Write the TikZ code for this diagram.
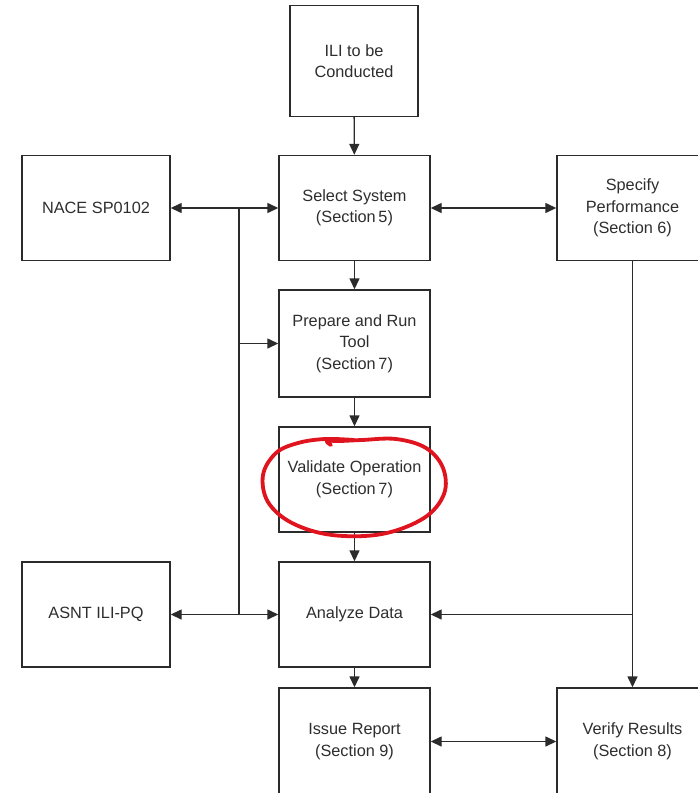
\documentclass[tikz,border=0pt]{standalone}
\usepackage{fontspec}
\setmainfont{Liberation Sans}
\usetikzlibrary{arrows.meta}
\definecolor{ink}{HTML}{2B2B2B}
\definecolor{txt}{HTML}{2E2E2E}
\definecolor{penred}{HTML}{E0141E}
\tikzset{
  box/.style={draw=ink, line width=1.4pt, minimum width=151pt, minimum height=105pt,
    inner sep=0pt, align=center, text=txt, font=\fontsize{16.3}{21.5}\selectfont},
  sidebox/.style={box, minimum width=148pt},
  conn/.style={draw=ink, line width=1.4pt},
  arr/.style={conn, -{Triangle[length=11pt,width=10pt]}},
  darr/.style={conn, {Triangle[length=11pt,width=10pt]}-{Triangle[length=11pt,width=10pt]}}
}
\begin{document}
\begin{tikzpicture}[x=1pt,y=-1pt]
  \useasboundingbox (0,0) rectangle (698,793);
  \clip (0,0) rectangle (698,793);
  \fill[white] (0,0) rectangle (698,793);

  % process boxes
  \node[box, minimum width=128pt, minimum height=111pt] (ili) at (354,61) {ILI to be\\Conducted};
  \node[box] (sel) at (354.5,208) {Select System\\(Section\,5)};
  \node[sidebox] (nace) at (96,208) {NACE SP0102};
  \node[box] (spec) at (632.5,208) {Specify\\Performance\\(Section 6)};
  \node[box, minimum height=107pt] (prep) at (354.5,343.5) {Prepare and Run\\Tool\\(Section\,7)};
  \node[box] (val) at (354.5,479.5) {Validate Operation\\(Section\,7)};
  \node[box] (ana) at (354.5,614.5) {Analyze Data};
  \node[sidebox] (asnt) at (96,614.5) {ASNT ILI-PQ};
  \node[box, minimum height=107pt] (iss) at (354.5,741.5) {Issue Report\\(Section 9)};
  \node[box, minimum height=107pt] (ver) at (632.5,741.5) {Verify Results\\(Section 8)};

  % junction points
  \coordinate (j1) at (239,208);
  \coordinate (j2) at (239,343.5);
  \coordinate (j3) at (239,614.5);
  \coordinate (j4) at (632.5,614.5);

  % main chain
  \draw[arr] (ili) -- (sel);
  \draw[arr] (sel) -- (prep);
  \draw[arr] (prep) -- (val);
  \draw[arr] (val) -- (ana);
  \draw[arr] (ana) -- (iss);

  % left-hand references
  \draw[conn, line width=2.8pt] (j1) -- (j2);
  \draw[conn] (j2) -- (j3);
  \draw[arr] (j1) -- (nace);
  \draw[arr] (j1) -- (sel);
  \draw[arr] (j2) -- (prep);
  \draw[arr] (j3) -- (asnt);
  \draw[arr] (j3) -- (ana);

  % right-hand side
  \draw[darr] (sel) -- (spec);
  \draw[arr] (spec) -- (ver);
  \draw[arr] (j4) -- (ana);
  \draw[darr] (iss) -- (ver);

  % hand-drawn highlight loop
  \draw[penred, line width=3.8pt, line cap=round, line join=round]
    plot[smooth, tension=0.6] coordinates {
      (331,445) (327,441) (340,441) (362,440) (396,439) (426,448)
      (443,468) (444,494) (424,518) (382,534) (332,535) (292,523)
      (268,502) (263,475) (276,453) (298,443) (325,439) (354,440)};
\end{tikzpicture}
\end{document}
